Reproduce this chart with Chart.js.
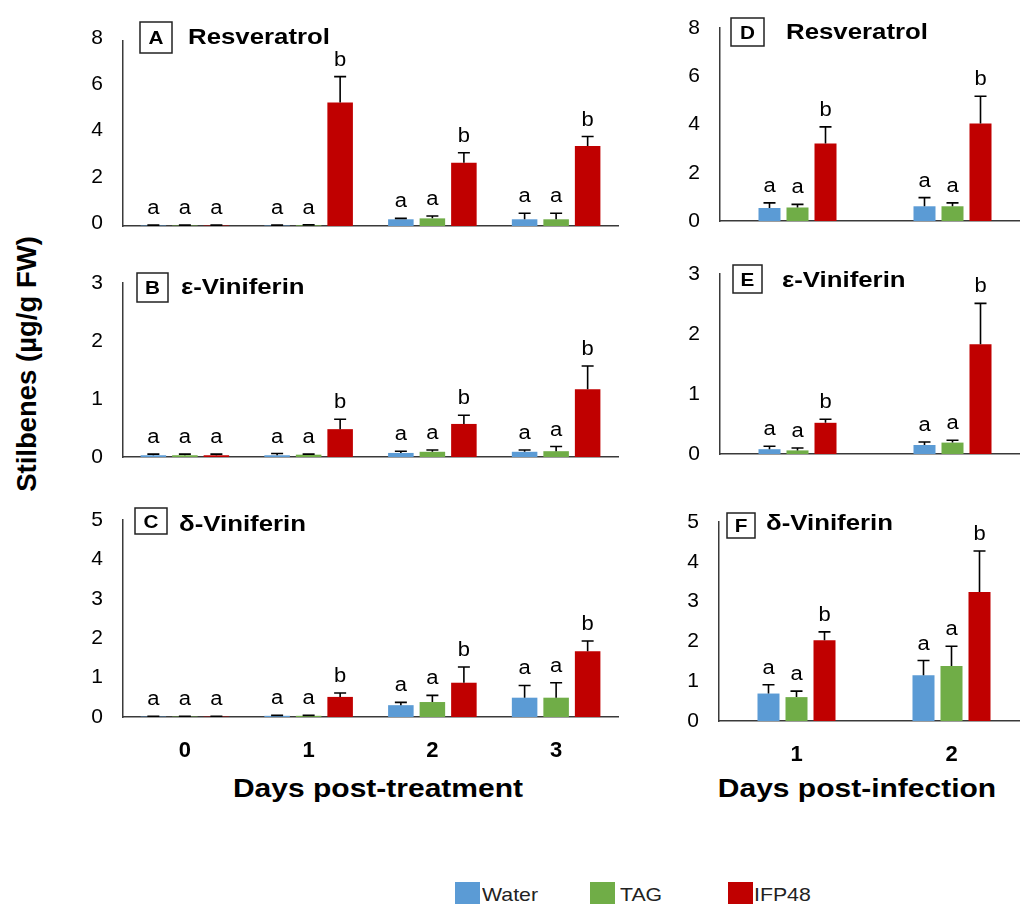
<!DOCTYPE html>
<html>
<head>
<meta charset="utf-8">
<script src="https://cdn.jsdelivr.net/npm/chart.js@4.4.1/dist/chart.umd.min.js"></script>
<style>
  html, body { margin: 0; padding: 0; background: #fff; }
  body { width: 1020px; height: 904px; position: relative; overflow: hidden;
         font-family: "Liberation Sans", Arial, Helvetica, sans-serif; }
  canvas { position: absolute; }
  .txt { position: absolute; white-space: nowrap; color: #000; }
  .swatch { position: absolute; width: 25px; height: 22px; }
</style>
</head>
<body>

<div class="txt" id="yTitle" style="left:26.5px;top:364px;font-weight:bold;font-size:27.5px;line-height:30px;transform:translate(-50%,-50%) rotate(-90deg);">Stilbenes (µg/g FW)</div>
<div class="txt" style="left:378px;top:773px;font-weight:bold;font-size:25px;line-height:30px;transform-origin:50% 0;transform:translate(-50%,0) scaleX(1.2);">Days post-treatment</div>
<div class="txt" style="left:857px;top:773px;font-weight:bold;font-size:25px;line-height:30px;transform-origin:50% 0;transform:translate(-50%,0) scaleX(1.2);">Days post-infection</div>
<div id="legend"></div>

<script>
// ---- categories and series ----
const daysPostTreatment = ['0', '1', '2', '3'];
const daysPostInfection = ['1', '2'];
const treatments = ['Water', 'TAG', 'IFP48'];

// Stilbene content (µg/g FW): rows = Water, TAG, IFP48
const resveratrolTreatment    = [[0.02, 0.02, 0.29, 0.29], [0.02, 0.03, 0.33, 0.29], [0.02, 5.34, 2.74, 3.46]];
const resveratrolTreatmentErr = [[0.02, 0.02, 0.04, 0.26], [0.02, 0.02, 0.10, 0.26], [0.02, 1.12, 0.43, 0.41]];

const eViniferinTreatment     = [[0.03, 0.03, 0.07, 0.09], [0.03, 0.04, 0.09, 0.10], [0.03, 0.48, 0.57, 1.17]];
const eViniferinTreatmentErr  = [[0.02, 0.03, 0.03, 0.03], [0.02, 0.01, 0.03, 0.08], [0.02, 0.17, 0.15, 0.40]];

const dViniferinTreatment     = [[0.01, 0.03, 0.30, 0.49], [0.01, 0.03, 0.38, 0.49], [0.01, 0.51, 0.87, 1.67]];
const dViniferinTreatmentErr  = [[0.01, 0.01, 0.07, 0.31], [0.01, 0.01, 0.17, 0.38], [0.01, 0.10, 0.40, 0.26]];

const resveratrolInfection    = [[0.54, 0.61], [0.56, 0.61], [3.21, 4.04]];
const resveratrolInfectionErr = [[0.21, 0.36], [0.13, 0.14], [0.69, 1.13]];

const eViniferinInfection     = [[0.08, 0.15], [0.06, 0.19], [0.52, 1.83]];
const eViniferinInfectionErr  = [[0.05, 0.05], [0.04, 0.04], [0.06, 0.68]];

const dViniferinInfection     = [[0.69, 1.15], [0.60, 1.38], [2.03, 3.24]];
const dViniferinInfectionErr  = [[0.22, 0.37], [0.15, 0.50], [0.21, 1.03]];

// statistical groups (letters above bars)
const lettersTreatment = [['a', 'a', 'a', 'a'], ['a', 'a', 'a', 'a'], ['a', 'b', 'b', 'b']];
const lettersInfection = [['a', 'a'], ['a', 'a'], ['b', 'b']];

// ---- styling ----
const FONT = '"Liberation Sans", Arial, Helvetica, sans-serif';
const seriesColors = ['#5B9BD5', '#70AD47', '#C00000'];
const AXIS_COLOR = '#3a3a3a';
const Y_W = 80;      // room for the y tick labels
const PAD_T = 34;    // room above the plot (heading + half of the top tick label)
const PAD_R = 5;
const CAP = 6;       // half width of an error-bar cap
const LETTER_GAP = 11;

Chart.defaults.font.family = FONT;

function stretchText(ctx, text, x, y, font, sx, align) {
  ctx.save();
  ctx.translate(x, y);
  ctx.scale(sx, 1);
  ctx.font = font;
  ctx.textAlign = align;
  ctx.textBaseline = 'alphabetic';
  ctx.fillStyle = '#000';
  ctx.fillText(text, 0, 0);
  ctx.restore();
}

// error bars, group letters and the boxed panel heading
const panelDecor = {
  id: 'panelDecor',
  afterDatasetsDraw(chart, args, opts) {
    const ctx = chart.ctx;
    const ys = chart.scales.y;
    ctx.save();
    chart.data.datasets.forEach((ds, i) => {
      const meta = chart.getDatasetMeta(i);
      meta.data.forEach((bar, j) => {
        const top = ys.getPixelForValue(ds.data[j] + ds.errors[j]);
        ctx.strokeStyle = '#000';
        ctx.lineWidth = 1.6;
        ctx.beginPath();
        ctx.moveTo(bar.x, bar.y);
        ctx.lineTo(bar.x, top);
        ctx.moveTo(bar.x - CAP, top);
        ctx.lineTo(bar.x + CAP, top);
        ctx.stroke();
        stretchText(ctx, ds.letters[j], bar.x, top - LETTER_GAP, '20px ' + FONT, 1.1, 'center');
      });
    });
    ctx.restore();
  },
  afterDraw(chart, args, opts) {
    const ctx = chart.ctx;
    const p = opts.panel;
    const ox = p.axis.l - Y_W, oy = p.axis.t - PAD_T;
    const b = p.box;
    ctx.save();
    ctx.strokeStyle = '#222';
    ctx.lineWidth = 1.5;
    ctx.strokeRect(b.x - ox, b.y - oy, b.w, b.h);
    stretchText(ctx, p.tag, b.x - ox + b.w / 2, b.y - oy + b.h / 2 + 6.5, 'bold 18px ' + FONT, 1.15, 'center');
    stretchText(ctx, p.title, p.titleX - ox, p.titleY - oy, 'bold 21.5px ' + FONT, 1.2, 'left');
    ctx.restore();
  }
};

function makePanel(p) {
  const canvas = document.createElement('canvas');
  const w = Y_W + (p.axis.r - p.axis.l) + PAD_R;
  const h = PAD_T + (p.axis.b - p.axis.t) + p.xh;
  canvas.width = w; canvas.height = h;
  canvas.style.width = w + 'px'; canvas.style.height = h + 'px';
  canvas.style.left = (p.axis.l - Y_W) + 'px';
  canvas.style.top = (p.axis.t - PAD_T) + 'px';
  document.body.appendChild(canvas);

  const datasets = treatments.map((name, i) => ({
    label: name,
    data: p.values[i],
    errors: p.errors[i],
    letters: p.letters[i],
    backgroundColor: seriesColors[i],
    borderWidth: 0,
    categoryPercentage: p.catPct,
    barPercentage: p.barPct
  }));

  new Chart(canvas, {
    type: 'bar',
    data: { labels: p.categories, datasets },
    plugins: [panelDecor],
    options: {
      responsive: false,
      animation: false,
      events: [],
      layout: { padding: { top: PAD_T, right: PAD_R, left: 0, bottom: 0 } },
      plugins: {
        legend: { display: false },
        tooltip: { enabled: false },
        panelDecor: { panel: p }
      },
      scales: {
        x: {
          grid: { display: false, drawTicks: false },
          border: { display: true, color: AXIS_COLOR, width: 1.5 },
          ticks: {
            display: p.showX,
            color: '#000',
            padding: 21,
            font: { size: 22, weight: 'bold', family: FONT }
          },
          afterFit(scale) { scale.height = p.xh; }
        },
        y: {
          min: 0, max: p.yMax,
          grid: { display: false, drawTicks: false },
          border: { display: true, color: AXIS_COLOR, width: 1.5 },
          ticks: {
            stepSize: p.yStep,
            color: '#000',
            padding: 20,
            labelOffset: p.labelShift || 0,
            font: { size: 21, family: FONT }
          },
          afterFit(scale) { scale.width = Y_W; }
        }
      }
    }
  });
}

const leftBars = { catPct: 0.764, barPct: 0.81 };
const rightBars = { catPct: 0.542, barPct: 0.786 };

makePanel(Object.assign({
  tag: 'A', title: 'Resveratrol', categories: daysPostTreatment,
  values: resveratrolTreatment, errors: resveratrolTreatmentErr, letters: lettersTreatment,
  yMax: 8, yStep: 2, showX: false, xh: 34, labelShift: -3,
  axis: { l: 123, r: 618, t: 41, b: 226 },
  box: { x: 140, y: 22, w: 32, h: 31 }, titleX: 188, titleY: 44
}, leftBars));

makePanel(Object.assign({
  tag: 'B', title: 'ε-Viniferin', categories: daysPostTreatment,
  values: eViniferinTreatment, errors: eViniferinTreatmentErr, letters: lettersTreatment,
  yMax: 3, yStep: 1, showX: false, xh: 34,
  axis: { l: 123, r: 618, t: 283, b: 457 },
  box: { x: 137, y: 273, w: 31, h: 29 }, titleX: 181, titleY: 294
}, leftBars));

makePanel(Object.assign({
  tag: 'C', title: 'δ-Viniferin', categories: daysPostTreatment,
  values: dViniferinTreatment, errors: dViniferinTreatmentErr, letters: lettersTreatment,
  yMax: 5, yStep: 1, showX: true, xh: 52,
  axis: { l: 123, r: 618, t: 520, b: 717 },
  box: { x: 135, y: 508, w: 32, h: 26 }, titleX: 179, titleY: 531
}, leftBars));

makePanel(Object.assign({
  tag: 'D', title: 'Resveratrol', categories: daysPostInfection,
  values: resveratrolInfection, errors: resveratrolInfectionErr, letters: lettersInfection,
  yMax: 8, yStep: 2, showX: false, xh: 34,
  axis: { l: 720, r: 1030, t: 28, b: 221 },
  box: { x: 731, y: 18, w: 33, h: 28 }, titleX: 786, titleY: 39
}, rightBars));

makePanel(Object.assign({
  tag: 'E', title: 'ε-Viniferin', categories: daysPostInfection,
  values: eViniferinInfection, errors: eViniferinInfectionErr, letters: lettersInfection,
  yMax: 3, yStep: 1, showX: false, xh: 34,
  axis: { l: 720, r: 1030, t: 274, b: 454 },
  box: { x: 733, y: 265, w: 29, h: 28 }, titleX: 782, titleY: 287
}, rightBars));

makePanel(Object.assign({
  tag: 'F', title: 'δ-Viniferin', categories: daysPostInfection,
  values: dViniferinInfection, errors: dViniferinInfectionErr, letters: lettersInfection,
  yMax: 5, yStep: 1, showX: true, xh: 52,
  axis: { l: 719, r: 1029, t: 522, b: 721 },
  box: { x: 727, y: 513, w: 28, h: 25 }, titleX: 766, titleY: 530
}, rightBars));

// legend along the bottom
const legendSpots = [{ sx: 455, tx: 482 }, { sx: 590, tx: 620 }, { sx: 728, tx: 754 }];
const legend = document.getElementById('legend');
treatments.forEach((name, i) => {
  const sw = document.createElement('div');
  sw.className = 'swatch';
  sw.style.left = legendSpots[i].sx + 'px';
  sw.style.top = '882px';
  sw.style.background = seriesColors[i];
  legend.appendChild(sw);
  const t = document.createElement('div');
  t.className = 'txt';
  t.textContent = name;
  t.style.cssText += 'left:' + legendSpots[i].tx + 'px;top:884px;font-size:19px;line-height:22px;color:#222;transform-origin:0 0;transform:scaleX(1.12);';
  legend.appendChild(t);
});
</script>
</body>
</html>
